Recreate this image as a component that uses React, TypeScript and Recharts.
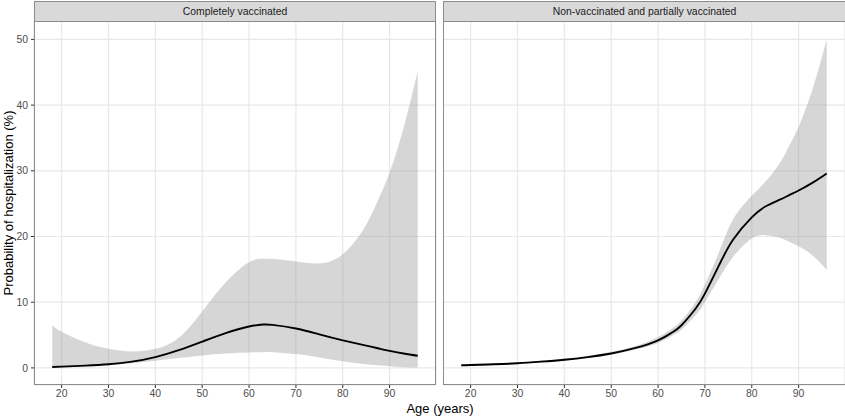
import React from "react";
import {
  ComposedChart,
  Area,
  Line,
  XAxis,
  YAxis,
  CartesianGrid,
} from "recharts";

// Completely vaccinated panel
const AGE_VAC = [18, 20, 25, 30, 35, 40, 45, 50, 55, 60, 63, 65, 70, 75, 80, 85, 88, 90, 93, 96];
const MEAN_VAC = [0.15, 0.2, 0.35, 0.55, 0.95, 1.65, 2.7, 4.0, 5.3, 6.3, 6.6, 6.55, 6.0, 5.1, 4.2, 3.4, 2.9, 2.6, 2.2, 1.85];
const LOW_VAC = [0.0, 0.05, 0.2, 0.4, 0.7, 1.1, 1.5, 1.9, 2.2, 2.35, 2.4, 2.4, 2.1, 1.6, 1.0, 0.55, 0.35, 0.25, 0.12, 0.05];
const HIGH_VAC = [6.5, 5.5, 3.9, 2.9, 2.5, 2.9, 4.6, 8.6, 13.0, 16.1, 16.6, 16.6, 16.2, 15.9, 17.3, 21.8, 26.3, 29.7, 36.6, 45.2];

// Non-vaccinated and partially vaccinated panel
const AGE_NON = [18, 20, 25, 30, 35, 40, 45, 50, 55, 60, 63, 65, 68, 70, 73, 76, 80, 83, 86, 88, 90, 93, 96];
const MEAN_NON = [0.4, 0.45, 0.55, 0.7, 0.95, 1.25, 1.65, 2.2, 3.0, 4.2, 5.4, 6.5, 9.0, 11.3, 15.6, 19.5, 22.9, 24.6, 25.6, 26.3, 27.0, 28.2, 29.6];
const LOW_NON = [0.3, 0.35, 0.45, 0.6, 0.85, 1.1, 1.5, 2.0, 2.75, 3.8, 4.9, 5.8, 8.0, 10.0, 13.6, 16.9, 19.7, 20.2, 19.8, 19.2, 18.5, 17.1, 14.9];
const HIGH_NON = [0.55, 0.6, 0.7, 0.85, 1.1, 1.45, 1.85, 2.45, 3.3, 4.7, 6.0, 7.2, 10.0, 12.7, 17.6, 22.6, 26.2, 28.4, 31.2, 33.8, 36.7, 42.5, 50.0];

const X_TICKS = [20, 30, 40, 50, 60, 70, 80, 90];
const Y_TICKS = [0, 10, 20, 30, 40, 50];

const FONT = '"Liberation Sans", Arial, sans-serif';
const BORDER = "#8c8c8c";

function build(ages: number[], mean: number[], low: number[], high: number[]) {
  return ages.map((age, i) => ({ age, mean: mean[i], band: [low[i], high[i]] }));
}

const vacData = build(AGE_VAC, MEAN_VAC, LOW_VAC, HIGH_VAC);
const nonData = build(AGE_NON, MEAN_NON, LOW_NON, HIGH_NON);

interface PanelProps {
  data: { age: number; mean: number; band: number[] }[];
  width: number;
  showY: boolean;
}

function Panel({ data, width, showY }: PanelProps) {
  return (
    <ComposedChart
      width={width}
      height={417}
      data={data}
      margin={{ top: 21, right: showY ? 4 : 0, bottom: 0, left: 0 }}
    >
      <CartesianGrid stroke="#e8e8e8" strokeWidth={1.2} />
      <XAxis
        dataKey="age"
        type="number"
        domain={[14.1, 99.9]}
        ticks={X_TICKS}
        allowDataOverflow
        axisLine={false}
        tickSize={3}
        tickMargin={2}
        tickLine={{ stroke: "#333" }}
        height={32}
        tick={{ fontSize: 10.4, fill: "#4d4d4d", fontFamily: FONT }}
      />
      <YAxis
        type="number"
        domain={[-2.6, 52.8]}
        ticks={Y_TICKS}
        allowDataOverflow
        hide={!showY}
        width={34}
        axisLine={false}
        tickSize={3}
        tickMargin={3}
        tickLine={{ stroke: "#333" }}
        tick={{ fontSize: 10.4, fill: "#4d4d4d", fontFamily: FONT }}
      />
      <Area
        dataKey="band"
        type="natural"
        stroke="none"
        fill="#999999"
        fillOpacity={0.4}
        isAnimationActive={false}
      />
      <Line
        dataKey="mean"
        type="natural"
        stroke="#000"
        strokeWidth={1.9}
        dot={false}
        isAnimationActive={false}
      />
    </ComposedChart>
  );
}

function Frame({ left, width, title }: { left: number; width: number; title: string }) {
  return (
    <div
      style={{
        position: "absolute",
        left,
        top: 1,
        width,
        height: 384,
        border: `1.5px solid ${BORDER}`,
        boxSizing: "border-box",
        pointerEvents: "none",
      }}
    >
      <div
        style={{
          height: 19,
          background: "#d9d9d9",
          borderBottom: `1.5px solid ${BORDER}`,
          fontSize: 10.4,
          color: "#1a1a1a",
          lineHeight: "19px",
          textAlign: "center",
        }}
      >
        {title}
      </div>
    </div>
  );
}

export default function App() {
  return (
    <div
      style={{
        position: "absolute",
        left: 0,
        top: 0,
        width: 845,
        height: 417,
        overflow: "hidden",
        background: "#fff",
        fontFamily: FONT,
      }}
    >
      <div style={{ position: "absolute", left: 0, top: 0 }}>
        <Panel data={vacData} width={440} showY />
      </div>
      <div style={{ position: "absolute", left: 443, top: 0 }}>
        <Panel data={nonData} width={402} showY={false} />
      </div>
      <Frame left={34} width={402} title="Completely vaccinated" />
      <Frame left={443} width={403} title="Non-vaccinated and partially vaccinated" />
      <div
        style={{
          position: "absolute",
          left: 8,
          top: 203,
          transform: "translate(-50%, -50%) rotate(-90deg)",
          whiteSpace: "nowrap",
          fontSize: 13,
          color: "#000",
        }}
      >
        Probability of hospitalization (%)
      </div>
      <div
        style={{
          position: "absolute",
          left: 440,
          top: 408,
          transform: "translate(-50%, -50%)",
          whiteSpace: "nowrap",
          fontSize: 13,
          color: "#000",
        }}
      >
        Age (years)
      </div>
    </div>
  );
}
